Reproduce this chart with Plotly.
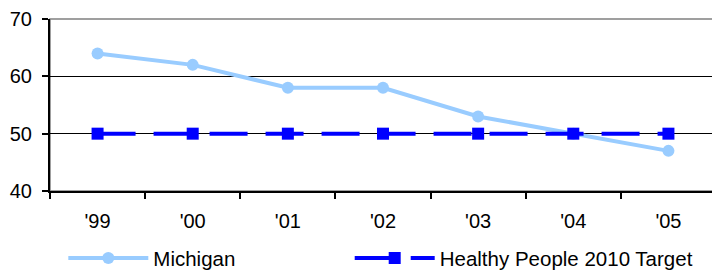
import plotly.graph_objects as go

years = ["'99", "'00", "'01", "'02", "'03", "'04", "'05"]
michigan = [64, 62, 58, 58, 53, 50, 47]
target = [50, 50, 50, 50, 50, 50, 50]
y_ticks = [40, 50, 60, 70]

fig = go.Figure()
fig.add_trace(go.Scatter(
    x=years, y=michigan, name="Michigan", mode="lines+markers",
    line=dict(color="#99CCFF", width=4),
    marker=dict(symbol="circle", size=12, color="#99CCFF"),
    legend="legend",
))
fig.add_trace(go.Scatter(
    x=years, y=target, name="Healthy People 2010 Target", mode="lines+markers",
    line=dict(color="#0000FF", width=4, dash="38px,18px"),
    marker=dict(symbol="square", size=12, color="#0000FF"),
    legend="legend2",
))

fig.add_shape(type="rect", xref="paper", yref="paper", x0=0, x1=1, y0=0, y1=1,
              line=dict(color="#808080", width=1.5), layer="between")

leg_common = dict(orientation="h", xanchor="left", y=-0.39, yanchor="middle",
                  itemwidth=80, font=dict(size=20.5), bgcolor="rgba(0,0,0,0)")

fig.update_layout(
    width=712, height=262,
    margin=dict(l=42, r=4, t=11, b=79, autoexpand=False),
    paper_bgcolor="white", plot_bgcolor="white",
    font=dict(family="Liberation Sans, Arial", size=20, color="black"),
    showlegend=True,
    legend=dict(x=0.02, **leg_common),
    legend2=dict(x=0.45, **leg_common),
    xaxis=dict(type="category", range=[-0.5, 6.5], showgrid=False,
               showline=True, linecolor="black", linewidth=2,
               ticks="outside", tickson="boundaries", ticklen=6, tickcolor="black",
               tickwidth=1.5, tickfont=dict(size=20), ticklabelstandoff=11),
    yaxis=dict(range=[40, 70], tickvals=y_ticks, showgrid=True, gridcolor="black",
               gridwidth=1, showline=True, linecolor="black", linewidth=2,
               ticks="outside", ticklen=6, tickcolor="black", tickwidth=1.5,
               zeroline=False, tickfont=dict(size=20), ticklabelstandoff=6),
)

fig.write_html("out.html")
